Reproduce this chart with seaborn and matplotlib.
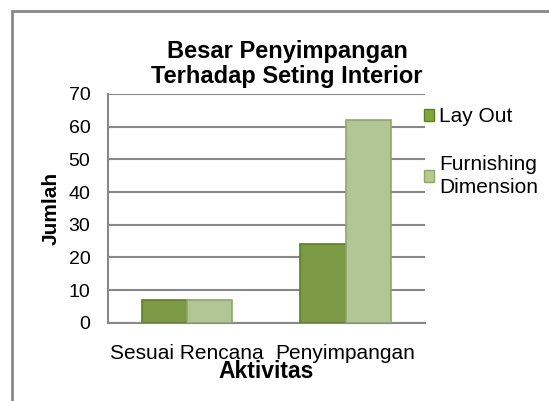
import pandas as pd
import seaborn as sns
import matplotlib.pyplot as plt
from matplotlib.patches import Rectangle

categories = ['Sesuai Rencana', 'Penyimpangan']
series_names = ['Lay Out', 'Furnishing\nDimension']
lay_out = [7, 24]
furnishing = [7, 62]
y_ticks = [0, 10, 20, 30, 40, 50, 60, 70]

df = pd.DataFrame({
    'Aktivitas': categories * 2,
    'Seri': [series_names[0]] * 2 + [series_names[1]] * 2,
    'Jumlah': lay_out + furnishing,
})

sns.set_style('white')
plt.rcParams['font.family'] = ['Liberation Sans', 'DejaVu Sans']
plt.rcParams['text.color'] = 'black'
plt.rcParams['axes.labelcolor'] = 'black'
plt.rcParams['xtick.color'] = 'black'
plt.rcParams['ytick.color'] = 'black'

colors = ['#80a838', '#b4cd8d']
edges = ['#5e7f26', '#8fa86a']

fig = plt.figure(figsize=(5.49, 4.01), dpi=100)
ax = fig.add_axes([0.1967, 0.1953, 0.577, 0.5703])

sns.barplot(data=df, x='Aktivitas', y='Jumlah', hue='Seri', palette=colors,
            width=0.57, ax=ax, legend=False, zorder=3)

for i, cont in enumerate(ax.containers):
    for bar in cont:
        bar.set_edgecolor(edges[i])
        bar.set_linewidth(1.2)

ax.set_ylim(0, 70)
ax.set_xlim(-0.5, 1.5)
ax.set_yticks(y_ticks)
ax.tick_params(axis='y', labelsize=14, length=4.7, width=1.5, color='#888888',
               labelcolor='black', pad=8)
ax.tick_params(axis='x', labelsize=15, length=0, pad=15, labelcolor='black')
ax.yaxis.grid(True, color='#888888', linewidth=1.5, zorder=0)
ax.set_axisbelow(True)
for side in ['top', 'right']:
    ax.spines[side].set_visible(False)
ax.spines['left'].set_color('#888888')
ax.spines['left'].set_linewidth(1.5)
ax.spines['bottom'].set_color('#888888')
ax.spines['bottom'].set_linewidth(1.5)

ax.set_ylabel('Jumlah', fontsize=15, fontweight='bold', labelpad=6)
ax.set_xlabel('Aktivitas', fontsize=16.5, fontweight='bold', labelpad=-2)

fig.text(0.523, 0.84, 'Besar Penyimpangan\nTerhadap Seting Interior',
         ha='center', va='center', fontsize=17, fontweight='bold',
         linespacing=1.12)

# legend entries
handles = [Rectangle((0, 0), 1, 1, facecolor=colors[i], edgecolor=edges[i]) for i in range(2)]
leg = fig.legend(handles, series_names, loc='upper left', bbox_to_anchor=(0.772, 0.732),
                 frameon=False, fontsize=15, handlelength=0.5, handleheight=0.5,
                 handletextpad=0.25, labelspacing=1.35, borderaxespad=0, borderpad=0)
for t in leg.get_texts():
    t.set_linespacing(1.3)

fig.patches.append(Rectangle((0.021, -0.1), 1.1, 1.0726, transform=fig.transFigure,
                             fill=False, edgecolor='#888888', linewidth=2))

fig.savefig('out.png', dpi=100)
